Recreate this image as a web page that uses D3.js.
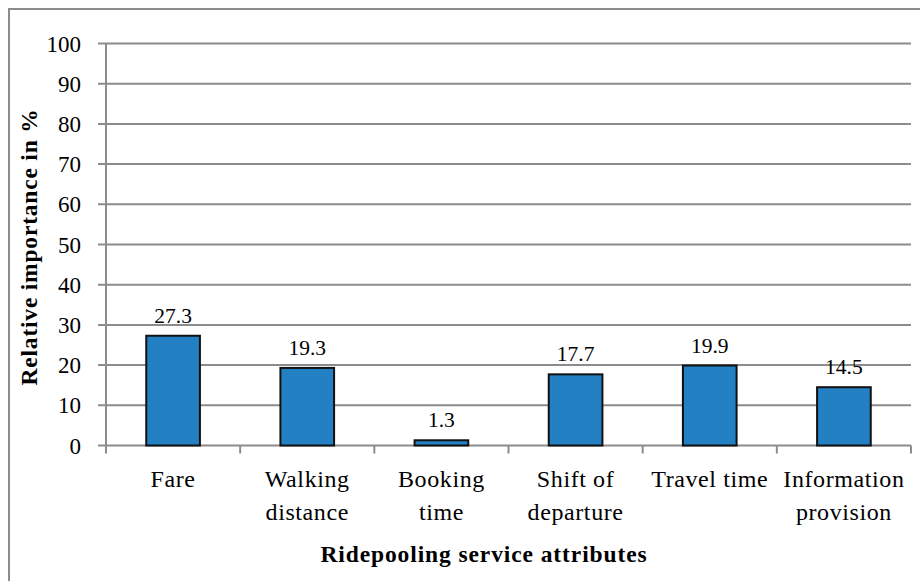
<!DOCTYPE html>
<html><head><meta charset="utf-8">
<script src="https://cdn.jsdelivr.net/npm/d3@7"></script>
<style>
html,body{margin:0;padding:0;background:#fff;}
svg{display:block;}
text{font-family:"Liberation Serif","Times New Roman",serif;fill:#000;}
</style></head>
<body>
<svg id="chart" width="920" height="581"></svg>
<script>
const categories = [["Fare"], ["Walking", "distance"], ["Booking", "time"], ["Shift of", "departure"], ["Travel time"], ["Information", "provision"]];
const values = [27.3, 19.3, 1.3, 17.7, 19.9, 14.5];
const yTicks = [0, 10, 20, 30, 40, 50, 60, 70, 80, 90, 100];
const xTitle = "Ridepooling service attributes";
const yTitle = "Relative importance in %";

(function () {
const svg = d3.select("#chart");
const mLeft = 106, mRight = 911, mTop = 43.5, mBottom = 445.5;

// outer frame
svg.append("rect").attr("x", 9).attr("y", 9).attr("width", 940).attr("height", 600)
  .attr("fill", "none").attr("stroke", "#8c8c8c").attr("stroke-width", 2);

const x = d3.scaleBand().domain(d3.range(categories.length)).range([mLeft, mRight])
  .paddingInner(0.6).paddingOuter(0.3);
const xb = d3.scaleBand().domain(d3.range(categories.length)).range([mLeft, mRight]).padding(0);
const y = d3.scaleLinear().domain([0, 100]).range([mBottom, mTop]);

// gridlines
svg.append("g").selectAll("line").data(yTicks).join("line")
  .attr("x1", mLeft - 8).attr("x2", mRight)
  .attr("y1", d => y(d)).attr("y2", d => y(d))
  .attr("stroke", "#8c8c8c").attr("stroke-width", 2);

// y axis line
svg.append("line").attr("x1", mLeft).attr("x2", mLeft).attr("y1", mTop).attr("y2", mBottom)
  .attr("stroke", "#8c8c8c").attr("stroke-width", 2);

// x tick marks
svg.append("g").selectAll("line").data(d3.range(categories.length + 1)).join("line")
  .attr("x1", d => mLeft + d * xb.step()).attr("x2", d => mLeft + d * xb.step())
  .attr("y1", mBottom).attr("y2", mBottom + 8)
  .attr("stroke", "#8c8c8c").attr("stroke-width", 2);

// y tick labels
svg.append("g").selectAll("text").data(yTicks).join("text")
  .attr("x", 81).attr("y", d => y(d)).attr("dy", "0.35em")
  .attr("text-anchor", "end").attr("font-size", 23).text(d => d);

// bars
svg.append("g").selectAll("rect").data(values).join("rect")
  .attr("x", (d, i) => x(i)).attr("width", x.bandwidth())
  .attr("y", d => y(d)).attr("height", d => y(0) - y(d))
  .attr("fill", "#2280c3").attr("stroke", "#111").attr("stroke-width", 2);

// value labels
svg.append("g").selectAll("text").data(values).join("text")
  .attr("x", (d, i) => x(i) + x.bandwidth() / 2).attr("y", d => y(d) - 13)
  .attr("text-anchor", "middle").attr("font-size", 21.5).text(d => d.toFixed(1));

// category labels
const cl = svg.append("g").selectAll("text").data(categories).join("text")
  .attr("text-anchor", "middle").attr("font-size", 24).attr("letter-spacing", 0.6)
  .attr("x", (d, i) => xb(i) + xb.bandwidth() / 2).attr("y", 487);
cl.selectAll("tspan").data(d => d).join("tspan")
  .attr("x", function () { return d3.select(this.parentNode).attr("x"); })
  .attr("dy", (d, i) => i === 0 ? 0 : 33).text(d => d);

// axis titles
svg.append("text").attr("x", 484).attr("y", 562).attr("text-anchor", "middle")
  .attr("font-size", 23.5).attr("font-weight", "bold").attr("letter-spacing", 0.9).text(xTitle);
svg.append("text").attr("transform", "translate(37,247) rotate(-90)").attr("text-anchor", "middle")
  .attr("font-size", 23.5).attr("font-weight", "bold").attr("letter-spacing", 0.8).text(yTitle);
})();
</script>
</body></html>
